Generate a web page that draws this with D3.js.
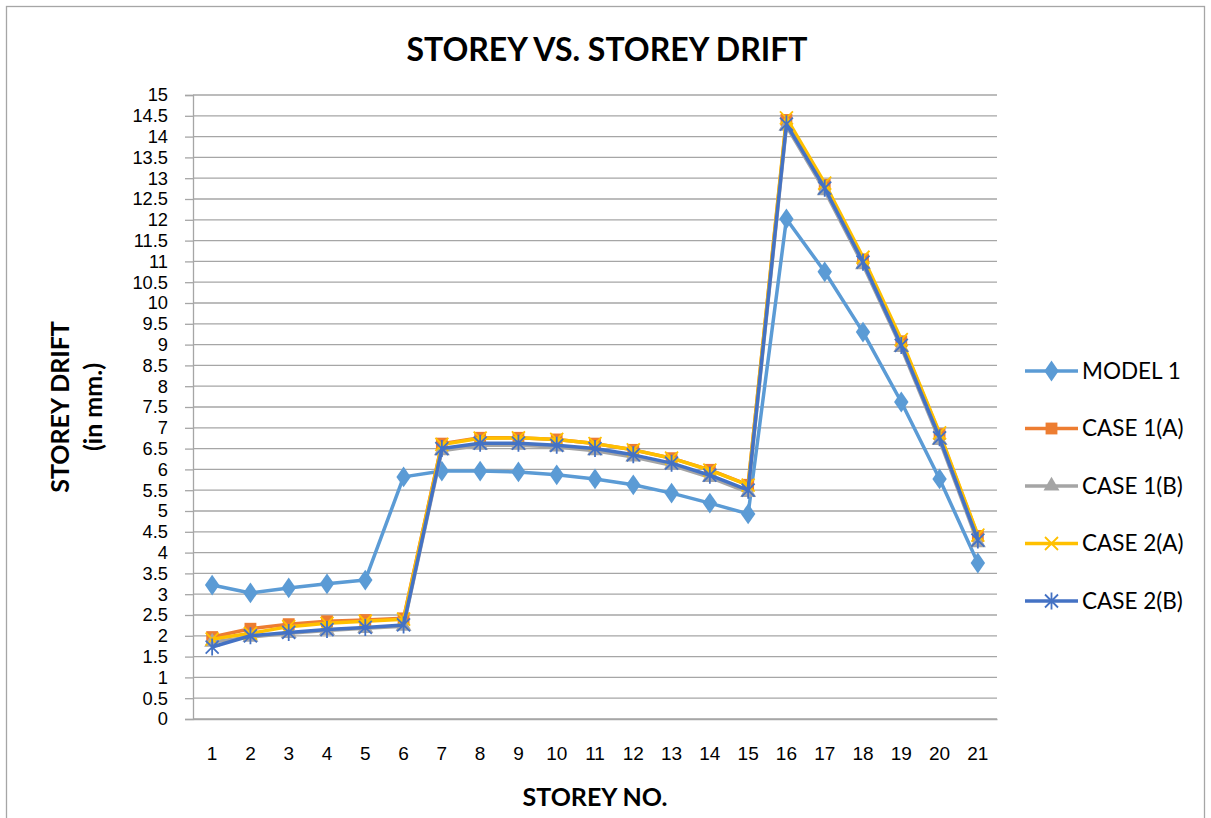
<!DOCTYPE html>
<html lang="en">
  <head>
    <meta charset="UTF-8" />
    <script src="https://d3js.org/d3.v7.min.js"></script>
    <style>
      body { margin: 0; background: #fff; }
      text { font-family: Lato, "Open Sans", sans-serif; fill: #000; }
      .grid line { stroke: #a6a6a6; stroke-width: 1.3px; }
    </style>
    <title>Storey vs. Storey Drift</title>
  </head>
  <body>
    <svg id="chart" width="1211" height="818"></svg>
    <script>
      // chart data
      const storeys = d3.range(1, 22).map(String);
      const seriesNames = ["MODEL 1", "CASE 1(A)", "CASE 1(B)", "CASE 2(A)", "CASE 2(B)"];
      const model1 = [3.22, 3.03, 3.15, 3.25, 3.34, 5.82, 5.96, 5.96, 5.94, 5.87, 5.77, 5.63, 5.43, 5.19, 4.93, 12.02, 10.75, 9.3, 7.62, 5.77, 3.75];
      const case1A = [1.97, 2.17, 2.28, 2.35, 2.38, 2.42, 6.62, 6.76, 6.76, 6.72, 6.62, 6.47, 6.27, 5.99, 5.63, 14.4, 12.84, 11.05, 9.08, 6.85, 4.4];
      const case1B = [1.85, 1.97, 2.06, 2.13, 2.18, 2.23, 6.45, 6.58, 6.58, 6.54, 6.45, 6.3, 6.1, 5.81, 5.45, 14.25, 12.7, 10.92, 8.93, 6.7, 4.24];
      const case2A = [1.92, 2.06, 2.22, 2.3, 2.35, 2.4, 6.6, 6.75, 6.76, 6.72, 6.62, 6.47, 6.27, 5.98, 5.62, 14.45, 12.88, 11.1, 9.12, 6.88, 4.42];
      const case2B = [1.73, 2.0, 2.08, 2.15, 2.2, 2.26, 6.5, 6.63, 6.63, 6.58, 6.5, 6.35, 6.15, 5.86, 5.5, 14.3, 12.76, 10.98, 8.98, 6.76, 4.3];
      const yTicks = d3.range(0, 15.01, 0.5);

      const allValues = [model1, case1A, case1B, case2A, case2B];
      const colors = ["#5B9BD5", "#ED7D31", "#A5A5A5", "#FFC000", "#4472C4"];
      const markers = ["diamond", "square", "triangle", "cross", "star"];

      const svg = d3.select("#chart");
      const margin = { top: 95, right: 214, bottom: 99, left: 193 };
      const width = 1211, height = 818;
      const plotW = width - margin.left - margin.right;
      const plotH = height - margin.top - margin.bottom;

      // outer border
      svg.append("rect")
        .attr("x", 6.5).attr("y", 6.5)
        .attr("width", 1198).attr("height", 830)
        .attr("fill", "none").attr("stroke", "#a6a6a6").attr("stroke-width", 1.3);

      const x = d3.scaleBand().domain(storeys).range([0, plotW]);
      const y = d3.scaleLinear().domain([0, 15]).range([plotH, 0]);

      const g = svg.append("g").attr("transform", `translate(${margin.left},${margin.top})`);

      // gridlines
      g.append("g").attr("class", "grid")
        .selectAll("line").data(yTicks).join("line")
        .attr("x1", 0).attr("x2", plotW)
        .attr("y1", d => y(d)).attr("y2", d => y(d));

      // y axis
      const yAxis = g.append("g")
        .call(d3.axisLeft(y).tickValues(yTicks).tickSize(8).tickPadding(17).tickFormat(d => d3.format("~g")(d)));
      yAxis.select(".domain").attr("stroke", "#a6a6a6").attr("stroke-width", 1.3);
      yAxis.selectAll(".tick line").attr("stroke", "#a6a6a6").attr("stroke-width", 1.3);
      yAxis.selectAll(".tick text").style("font-size", "18.3px").style("font-family", "'Liberation Sans', sans-serif").attr("fill", "#000");

      // x axis
      const xAxis = g.append("g").attr("transform", `translate(0,${plotH})`)
        .call(d3.axisBottom(x).tickSize(0).tickPadding(28));
      xAxis.select(".domain").attr("stroke", "#a6a6a6").attr("stroke-width", 1.3);
      xAxis.selectAll(".tick text").style("font-size", "19px").style("font-family", "'Liberation Sans', sans-serif").attr("fill", "#000");

      const cx = d => x(d) + x.bandwidth() / 2;
      const line = d3.line().x((d, i) => cx(storeys[i])).y(d => y(d));

      function drawMarker(sel, type, color) {
        if (type === "diamond") {
          sel.append("path").attr("d", d3.symbol(d3.symbolDiamond, 125)()).attr("fill", color)
            .attr("transform", "scale(1.2,1)");
        } else if (type === "square") {
          sel.append("path").attr("d", d3.symbol(d3.symbolSquare, 140)()).attr("fill", color);
        } else if (type === "triangle") {
          sel.append("path").attr("d", d3.symbol(d3.symbolTriangle, 110)()).attr("fill", color);
        } else if (type === "cross") {
          sel.append("path").attr("d", "M-6.5,-6.5L6.5,6.5M-6.5,6.5L6.5,-6.5").attr("stroke", color).attr("stroke-width", 1.8).attr("fill", "none");
        } else {
          sel.append("path").attr("d", "M-6.5,-6.5L6.5,6.5M-6.5,6.5L6.5,-6.5M0,-8.5L0,8.5").attr("stroke", color).attr("stroke-width", 1.8).attr("fill", "none");
        }
      }

      allValues.forEach((vals, s) => {
        const sg = g.append("g");
        sg.append("path").datum(vals)
          .attr("d", line).attr("fill", "none")
          .attr("stroke", colors[s]).attr("stroke-width", 3.5)
          .attr("stroke-linejoin", "round");
        sg.selectAll("g.pt").data(vals).join("g").attr("class", "pt")
          .attr("transform", (d, i) => `translate(${cx(storeys[i])},${y(d)})`)
          .each(function () { drawMarker(d3.select(this), markers[s], colors[s]); });
      });

      // title
      svg.append("text").attr("x", 607).attr("y", 61).attr("text-anchor", "middle")
        .style("font-size", "32px").style("font-weight", "bold").text("STOREY VS. STOREY DRIFT");

      // axis titles
      const yt = svg.append("text").attr("transform", "translate(69,407) rotate(-90)")
        .attr("text-anchor", "middle").style("font-size", "25px").style("font-weight", "bold");
      yt.append("tspan").attr("x", 0).attr("dy", 0).text("STOREY DRIFT");
      yt.append("tspan").attr("x", 0).attr("dy", 33).text("(in mm.)");

      svg.append("text").attr("x", 595).attr("y", 806).attr("text-anchor", "middle")
        .style("font-size", "25px").style("font-weight", "bold").text("STOREY NO.");

      // legend
      const legend = svg.append("g").attr("transform", "translate(1025,371)");
      const items = legend.selectAll("g").data(seriesNames).join("g")
        .attr("transform", (d, i) => `translate(0,${i * 57.5})`);
      items.append("line").attr("x1", 0).attr("x2", 53).attr("stroke", (d, i) => colors[i]).attr("stroke-width", 3.5);
      items.append("g").attr("transform", "translate(26.5,0)")
        .each(function (d, i) { drawMarker(d3.select(this), markers[i], colors[i]); });
      items.append("text").attr("x", 57).attr("dy", "0.35em")
        .style("font-size", "22.5px").text(d => d);
    </script>
  </body>
</html>
